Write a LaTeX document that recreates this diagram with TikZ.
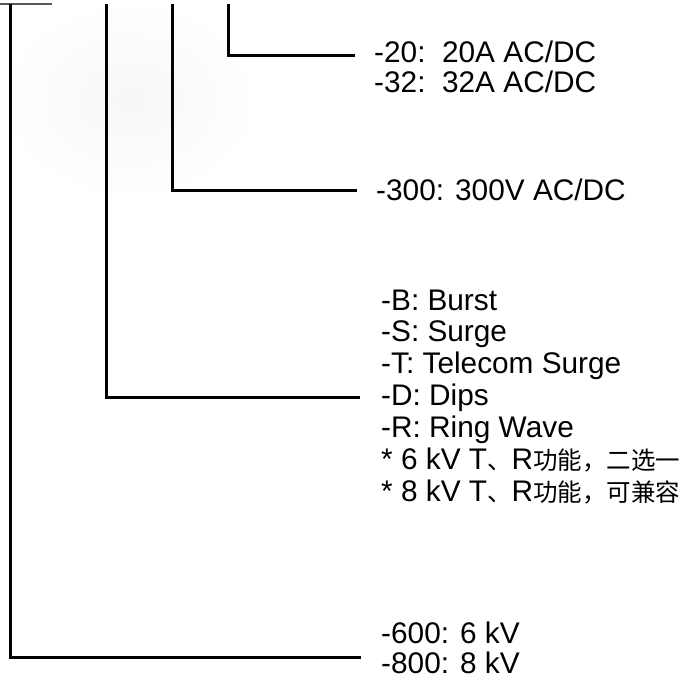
\documentclass[tikz,border=0pt]{standalone}
\usepackage{fontspec}
\setmainfont{Liberation Sans}
\newfontfamily\cjk{Noto Sans CJK SC}
\newcommand{\cj}[1]{{\cjk\fontsize{24.5pt}{31.5pt}\selectfont #1}}
\tikzset{
  conn/.style={line width=3pt, line join=miter, black},
  lbl/.style={anchor=base west, inner sep=0pt, font=\fontsize{29.8pt}{31.5pt}\selectfont},
}
\begin{document}
\begin{tikzpicture}[x=1pt,y=-1pt]
\useasboundingbox (0,0) rectangle (696,681);
% faint shadow at top left
\shade[inner color=gray!6, outer color=white] (0,0) rectangle (260,200);
% short grey rule at the top left
\coordinate (g0) at (0,4);
\coordinate (g1) at (52,4);
\draw[line width=1.5pt, gray!70!black] (g0) -- (g1);
% labels
\node[lbl] (n20) at (374,62) {-20:\ \ 20A AC/DC};
\node[lbl] (n32) at (374,92) {-32:\ \ 32A AC/DC};
\node[lbl] (n300) at (376,200) {-300: 300V AC/DC};
\node[lbl] (nB) at (381,310) {-B: Burst};
\node[lbl] (nS) at (381,341.5) {-S: Surge};
\node[lbl] (nT) at (381,373) {-T: Telecom Surge};
\node[lbl] (nD) at (381,405) {-D: Dips};
\node[lbl] (nR) at (381,437) {-R: Ring Wave};
\node[lbl] (n6) at (381,469) {* 6 kV T\cj{、}R\cj{功能，二选一}};
\node[lbl] (n8) at (381,501) {* 8 kV T\cj{、}R\cj{功能，可兼容}};
\node[lbl] (n600) at (381,643) {-600: 6 kV};
\node[lbl] (n800) at (381,673) {-800: 8 kV};
% connectors
\coordinate (a1) at (10,3.5);   \coordinate (b1) at (361,657);
\coordinate (a2) at (106,3.5);  \coordinate (b2) at (360,397);
\coordinate (a3) at (172,3.5);  \coordinate (b3) at (357,190);
\coordinate (a4) at (228,3.5);  \coordinate (b4) at (355,55);
\draw[conn] (a1) |- (b1);
\draw[conn] (a2) |- (b2);
\draw[conn] (a3) |- (b3);
\draw[conn] (a4) |- (b4);
\end{tikzpicture}
\end{document}
